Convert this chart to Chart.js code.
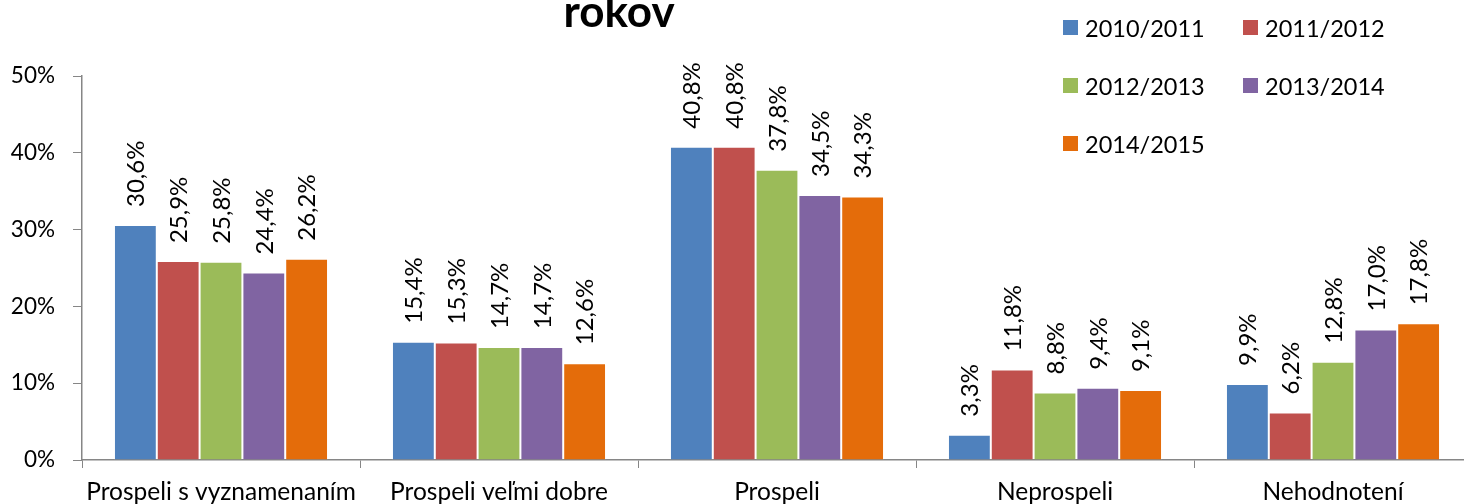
<!DOCTYPE html>
<html>
<head>
<meta charset="utf-8">
<script src="https://cdn.jsdelivr.net/npm/chart.js@4/dist/chart.umd.min.js"></script>
<style>
  html, body { margin: 0; padding: 0; background: #fff; overflow: hidden; }
  #wrap { position: relative; width: 1480px; height: 504px; }
  #legend {
    position: absolute; left: 1063px; top: 13px;
    display: grid; grid-template-columns: 180px 180px; row-gap: 29px;
    font-family: Lato, sans-serif; font-size: 23.5px; color: #000;
  }
  #legend .item { display: flex; align-items: center; height: 29px; }
  #legend .box { width: 15px; height: 15px; margin-right: 7px; }
</style>
</head>
<body>
<div id="wrap">
  <canvas id="chart"></canvas>
  <div id="legend"></div>
</div>
<script>
// ---- data ----
const categories = ['Prospeli s vyznamenaním', 'Prospeli veľmi dobre', 'Prospeli', 'Neprospeli', 'Nehodnotení']
const years      = ['2010/2011', '2011/2012', '2012/2013', '2013/2014', '2014/2015']
const colors     = ['#4F81BD', '#C0504D', '#9BBB59', '#8064A2', '#E46C0A']

const v2010 = [30.6, 15.4, 40.8,  3.3,  9.9]
const v2011 = [25.9, 15.3, 40.8, 11.8,  6.2]
const v2012 = [25.8, 14.7, 37.8,  8.8, 12.8]
const v2013 = [24.4, 14.7, 34.5,  9.4, 17.0]
const v2014 = [26.2, 12.6, 34.3,  9.1, 17.8]
const series = [v2010, v2011, v2012, v2013, v2014]

const titleText = 'rokov'
const yTicks = [0, 10, 20, 30, 40, 50]

const FONT = 'Lato, sans-serif'
const AXIS = '#868686'

// ---- plugins ----
// hodnoty nad stĺpcami, otočené o 90°
const valueLabels = {
  id: 'valueLabels',
  afterDatasetsDraw(chart) {
    const ctx = chart.ctx
    ctx.save()
    ctx.font = `24px ${FONT}`
    ctx.fillStyle = '#000'
    ctx.textAlign = 'left'
    ctx.textBaseline = 'middle'
    chart.data.datasets.forEach((ds, i) => {
      chart.getDatasetMeta(i).data.forEach((bar, j) => {
        const txt = ds.data[j].toFixed(1).replace('.', ',') + '%'
        ctx.save()
        ctx.translate(bar.x + 1, bar.y - 18)
        ctx.rotate(-Math.PI / 2)
        ctx.fillText(txt, 0, 0)
        ctx.restore()
      })
    })
    ctx.restore()
  }
}

// orezaný nadpis (vidno len druhý riadok)
const titlePlugin = {
  id: 'cutTitle',
  afterDraw(chart) {
    const ctx = chart.ctx
    ctx.save()
    ctx.font = `bold 44px ${FONT}`
    ctx.fillStyle = '#000'
    ctx.textAlign = 'center'
    ctx.textBaseline = 'alphabetic'
    ctx.fillText(titleText, 619, 27)
    ctx.restore()
  }
}

// ---- legend (HTML) ----
const legendEl = document.getElementById('legend')
years.forEach((y, i) => {
  const item = document.createElement('div')
  item.className = 'item'
  item.innerHTML = `<span class="box" style="background:${colors[i]}"></span><span>${y}</span>`
  legendEl.appendChild(item)
})

// ---- chart ----
new Chart(document.getElementById('chart'), {
  type: 'bar',
  data: {
    labels: categories,
    datasets: series.map((d, i) => ({
      label: years[i],
      data: d,
      backgroundColor: colors[i],
      borderColor: 'rgba(255,255,255,0.25)',
      borderWidth: 1,
      barPercentage: 1.0,
      categoryPercentage: 0.77,
    }))
  },
  options: {
    responsive: true, maintainAspectRatio: false,
    animation: false,
    layout: { padding: { left: 0, top: 76, right: 8, bottom: 0 } },
    plugins: {
      legend: { display: false },
      tooltip: { enabled: false },
      title: { display: false }
    },
    scales: {
      x: {
        offset: true,
        grid: { offset: true, drawOnChartArea: false, drawTicks: true, tickLength: 8, color: AXIS },
        border: { color: AXIS, width: 1.5 },
        ticks: { color: '#000', font: { family: FONT, size: 24.5 }, padding: 9, maxRotation: 0, autoSkip: false },
        afterFit: s => { s.height = 44 }
      },
      y: {
        min: 0, max: 50,
        afterBuildTicks: s => { s.ticks = yTicks.map(v => ({ value: v })) },
        grid: { drawOnChartArea: false, drawTicks: true, tickLength: 9, color: AXIS },
        border: { color: AXIS, width: 1.5 },
        ticks: { color: '#000', font: { family: FONT, size: 22.5 }, padding: 18, callback: v => v + '%' },
        afterFit: s => { s.width = 82 }
      }
    }
  },
  plugins: [valueLabels, titlePlugin]
})
</script>
</body>
</html>
